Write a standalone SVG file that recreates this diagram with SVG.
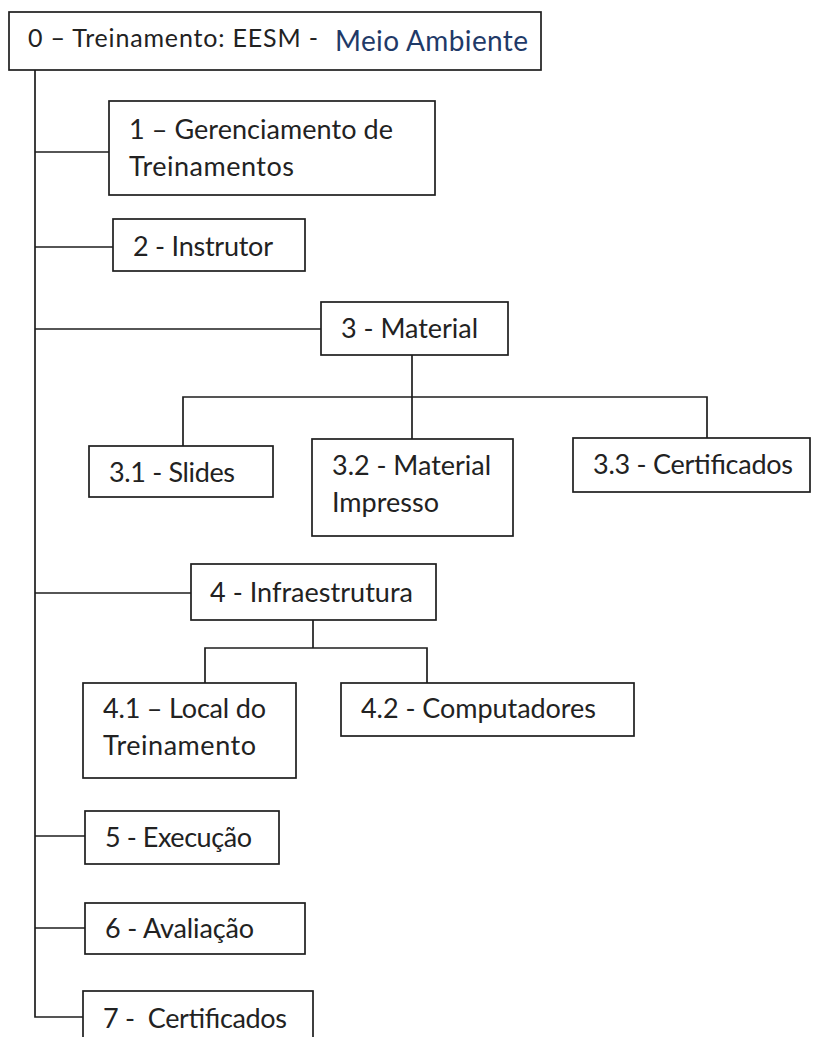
<svg xmlns="http://www.w3.org/2000/svg" width="814" height="1037" viewBox="0 0 814 1037">
  <style>
    .box { fill: #ffffff; stroke: #1e1e1e; stroke-width: 1.7; }
    .wire { fill: none; stroke: #1e1e1e; stroke-width: 1.7; }
    .lbl { font-family: Lato, "Open Sans", "Liberation Sans", sans-serif; font-size: 27px; fill: #222222; white-space: pre; }
    .head { font-size: 25px; }
    .accent { font-size: 28px; fill: #1f3a68; }
  </style>
  <rect width="814" height="1037" fill="#ffffff"/>

  <!-- tree connectors -->
  <g id="connectors">
    <path class="wire" d="M35,70 V1017 H83"/>
    <path class="wire" d="M35,152 H109"/>
    <path class="wire" d="M35,247 H113"/>
    <path class="wire" d="M35,329 H321"/>
    <path class="wire" d="M35,593 H191"/>
    <path class="wire" d="M35,836 H85"/>
    <path class="wire" d="M35,928 H85"/>
    <path class="wire" d="M412,355 V439"/>
    <path class="wire" d="M183,446 V397 H707 V438"/>
    <path class="wire" d="M313,620 V648"/>
    <path class="wire" d="M205,683 V648 H427 V683"/>
  </g>

  <g id="node-0">
    <rect class="box" x="9" y="12" width="532" height="58"/>
    <text class="lbl head" x="28" y="47" textLength="290">0 – Treinamento: EESM -</text>
    <text class="lbl accent" x="335" y="51" textLength="193">Meio Ambiente</text>
  </g>

  <g id="node-1">
    <rect class="box" x="109" y="101" width="326" height="94"/>
    <text class="lbl" x="129" y="139" textLength="264">1 – Gerenciamento de</text>
    <text class="lbl" x="129" y="176" textLength="165">Treinamentos</text>
  </g>

  <g id="node-2">
    <rect class="box" x="113" y="219" width="192" height="52"/>
    <text class="lbl" x="133" y="256" textLength="140">2 - Instrutor</text>
  </g>

  <g id="node-3">
    <rect class="box" x="321" y="302" width="187" height="53"/>
    <text class="lbl" x="341" y="338" textLength="137">3 - Material</text>
  </g>

  <g id="node-3-1">
    <rect class="box" x="89" y="446" width="184" height="51"/>
    <text class="lbl" x="109" y="482" textLength="126">3.1 - Slides</text>
  </g>

  <g id="node-3-2">
    <rect class="box" x="312" y="439" width="201" height="97"/>
    <text class="lbl" x="332" y="475" textLength="159">3.2 - Material</text>
    <text class="lbl" x="332" y="512" textLength="107">Impresso</text>
  </g>

  <g id="node-3-3">
    <rect class="box" x="573" y="438" width="237" height="54"/>
    <text class="lbl" x="593" y="474" textLength="200">3.3 - Certificados</text>
  </g>

  <g id="node-4">
    <rect class="box" x="191" y="564" width="245" height="56"/>
    <text class="lbl" x="210" y="602" textLength="203">4 - Infraestrutura</text>
  </g>

  <g id="node-4-1">
    <rect class="box" x="83" y="683" width="213" height="95"/>
    <text class="lbl" x="103" y="718" textLength="163">4.1 – Local do</text>
    <text class="lbl" x="103" y="755" textLength="153">Treinamento</text>
  </g>

  <g id="node-4-2">
    <rect class="box" x="341" y="683" width="293" height="53"/>
    <text class="lbl" x="361" y="718" textLength="235">4.2 - Computadores</text>
  </g>

  <g id="node-5">
    <rect class="box" x="85" y="811" width="194" height="53"/>
    <text class="lbl" x="105" y="847" textLength="147">5 - Execução</text>
  </g>

  <g id="node-6">
    <rect class="box" x="85" y="903" width="220" height="51"/>
    <text class="lbl" x="105" y="938" textLength="149">6 - Avaliação</text>
  </g>

  <g id="node-7">
    <rect class="box" x="83" y="991" width="230" height="70"/>
    <text class="lbl" x="103" y="1028" textLength="184">7 -  Certificados</text>
  </g>
</svg>
